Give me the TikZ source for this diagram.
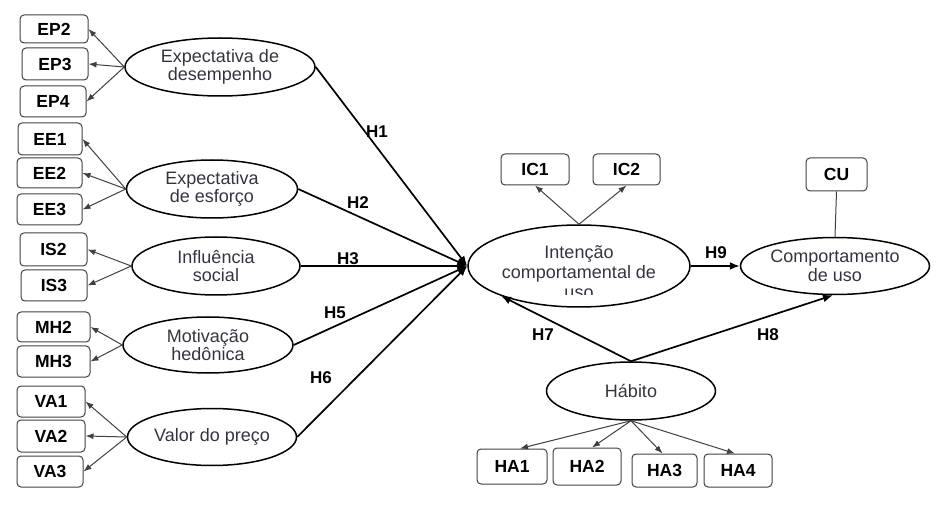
\documentclass[tikz,border=0pt]{standalone}
\usepackage{fontspec}
\setmainfont{Liberation Sans}
\usetikzlibrary{shapes.geometric,arrows.meta}
\definecolor{txtgray}{RGB}{52,52,64}
\tikzset{
  ind/.style={draw=black!75, line width=1pt, rounded corners=4pt, inner sep=0pt,
    font=\fontsize{17.5}{19}\selectfont\bfseries},
  lat/.style={draw=black, line width=1.5pt, ellipse, inner sep=0pt, align=center,
    text=txtgray, font=\fontsize{18}{18.5}\selectfont},
  load/.style={draw=black!75, line width=1pt, -{Latex[length=8pt,width=6pt]}},
  path/.style={draw=black, line width=1.7pt, -{Latex[length=10pt,width=8pt]}},
  hlab/.style={font=\fontsize{17}{18}\selectfont\bfseries, inner sep=1pt}
}
\begin{document}
\begin{tikzpicture}[x=1pt,y=-1pt]
\useasboundingbox (0,0) rectangle (938,505);
% indicator boxes
\node[ind, minimum width=68pt, minimum height=28pt] (ep2) at (54,29) {EP2};
\node[ind, minimum width=66pt, minimum height=32pt] (ep3) at (55,64) {EP3};
\node[ind, minimum width=66pt, minimum height=31pt] (ep4) at (53,101.5) {EP4};
\node[ind, minimum width=64pt, minimum height=32pt] (ee1) at (50,139) {EE1};
\node[ind, minimum width=65pt, minimum height=30pt] (ee2) at (49.5,173) {EE2};
\node[ind, minimum width=65pt, minimum height=31pt] (ee3) at (49.5,209.5) {EE3};
\node[ind, minimum width=67pt, minimum height=33pt] (is2) at (53.5,249.5) {IS2};
\node[ind, minimum width=66pt, minimum height=31pt] (is3) at (54,285.5) {IS3};
\node[ind, minimum width=73pt, minimum height=30pt] (mh2) at (53.5,327) {MH2};
\node[ind, minimum width=73pt, minimum height=31pt] (mh3) at (53.5,361.5) {MH3};
\node[ind, minimum width=68pt, minimum height=31pt] (va1) at (51,401.5) {VA1};
\node[ind, minimum width=68pt, minimum height=32pt] (va2) at (51,436) {VA2};
\node[ind, minimum width=66pt, minimum height=31pt] (va3) at (50,471.5) {VA3};
\node[ind, minimum width=68pt, minimum height=31pt] (ic1) at (535,169.5) {IC1};
\node[ind, minimum width=67pt, minimum height=31pt] (ic2) at (626.5,169.5) {IC2};
\node[ind, minimum width=61pt, minimum height=33pt] (cu) at (836.5,174.5) {CU};
\node[ind, minimum width=70pt, minimum height=35pt] (ha1) at (512,466.5) {HA1};
\node[ind, minimum width=68pt, minimum height=37pt] (ha2) at (587,466.5) {HA2};
\node[ind, minimum width=65pt, minimum height=33pt] (ha3) at (664.5,470.5) {HA3};
\node[ind, minimum width=68pt, minimum height=33pt] (ha4) at (738,470.5) {HA4};
% latent variables
\node[lat, minimum width=190pt, minimum height=58pt] (ed) at (220,67) {Expectativa de\\desempenho};
\node[lat, minimum width=171pt, minimum height=58pt] (ee) at (212,189) {Expectativa\\de esforço};
\node[lat, minimum width=168pt, minimum height=58pt] (is) at (216,266) {Influência\\social};
\node[lat, minimum width=170pt, minimum height=56pt] (mh) at (208,345) {Motivação\\hedônica};
\node[lat, minimum width=169pt, minimum height=57pt] (vp) at (212,437) {Valor do preço};
\node[lat, minimum width=222pt, minimum height=82pt] (ic) at (579,266) {};
\begin{scope}
\clip (465,228) rectangle (695,295);
\node[lat, draw=none, font=\fontsize{18}{20}\selectfont] (ictext) at (579,272) {Intenção\\comportamental de\\uso};
\end{scope}
\node[lat, minimum width=189pt, minimum height=57pt] (cb) at (835,266) {Comportamento\\de uso};
\node[lat, minimum width=169pt, minimum height=58pt] (hab) at (631,391) {Hábito};
% loadings
\foreach \t in {ep2,ep3,ep4} \draw[load] (ed.west) -- (\t.east);
\foreach \t in {ee1,ee2,ee3} \draw[load] (ee.west) -- (\t.east);
\foreach \t in {is2,is3} \draw[load] (is.west) -- (\t.east);
\foreach \t in {mh2,mh3} \draw[load] (mh.west) -- (\t.east);
\foreach \t in {va1,va2,va3} \draw[load] (vp.west) -- (\t.east);
\foreach \t in {ic1,ic2} \draw[load] (ic.north) -- (\t.south);
\draw[load] (hab.south) -- ([xshift=8pt]ha1.north);
\draw[load] (hab.south) -- ([xshift=5pt]ha2.north);
\draw[load] (hab.south) -- ([xshift=-2pt]ha3.north);
\draw[load] (hab.south) -- ([xshift=-3pt]ha4.north);
\draw[draw=black!75, line width=1pt] (cu.south) -- (cb.north);
% structural paths
\draw[path] (ed.east) -- (ic.west);
\draw[path] (ee.east) -- (ic.west);
\draw[path] (is.east) -- (ic.west);
\draw[path] (mh.east) -- (ic.west);
\draw[path] (vp.east) -- (ic.west);
\draw[path] (ic.east) -- (cb.west);
\draw[path] (hab.north) -- (ic.201);
\draw[path] (hab.north) -- (cb.266);
% labels
\node[hlab] (lh1) at (377,132) {H1};
\node[hlab] (lh2) at (358,203) {H2};
\node[hlab] (lh3) at (348,259) {H3};
\node[hlab] (lh5) at (335,313) {H5};
\node[hlab] (lh6) at (321,378) {H6};
\node[hlab] (lh7) at (543,335) {H7};
\node[hlab] (lh8) at (768,335) {H8};
\node[hlab] (lh9) at (716,253) {H9};
\end{tikzpicture}
\end{document}
